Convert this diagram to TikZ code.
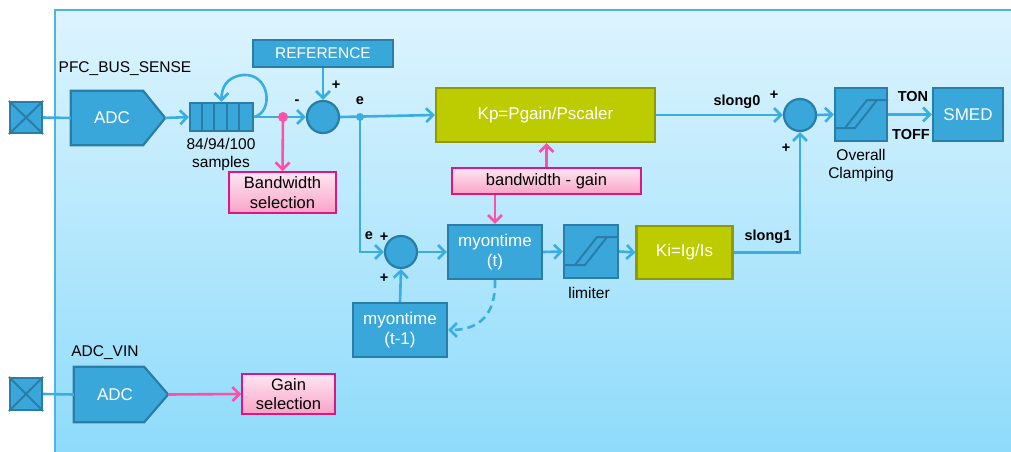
\documentclass[tikz,border=0pt]{standalone}
\usepackage{fontspec}
\setmainfont{Liberation Sans}
\usetikzlibrary{arrows.meta}
\definecolor{blkfill}{HTML}{3AA7DA}
\definecolor{blkline}{HTML}{2A7DA8}
\definecolor{wirec}{HTML}{3AAEE2}
\definecolor{pinkw}{HTML}{FF4FA8}
\definecolor{pinkline}{HTML}{E0157F}
\definecolor{pinktop}{HTML}{FDE6F1}
\definecolor{pinkbot}{HTML}{F9A3C8}
\definecolor{olive}{HTML}{BDCC00}
\definecolor{oliveline}{HTML}{8E9A00}
\definecolor{paneltop}{HTML}{DDF4FE}
\definecolor{panelbot}{HTML}{8EDBFB}
\definecolor{panelline}{HTML}{4DB4E4}
\begin{document}
\begin{tikzpicture}[x=1pt,y=-1pt,
 blk/.style={rectangle, fill=blkfill, draw=blkline, line width=2.2pt, text=white, inner sep=0pt, align=center, font=\fontsize{17}{20}\selectfont},
 olv/.style={blk, fill=olive, draw=oliveline},
 pbox/.style={rectangle, top color=pinktop, bottom color=pinkbot, draw=pinkline, line width=1.5pt, inner sep=0pt, align=center, text=black, font=\fontsize{16.5}{19.5}\selectfont},
 sumc/.style={circle, fill=blkfill, draw=blkline, line width=2.2pt, minimum size=32pt, inner sep=0pt},
 wire/.style={draw=wirec, line width=2.6pt, -{Straight Barb[length=7pt,width=14pt,line width=2.6pt]}},
 plainwire/.style={draw=wirec, line width=2.6pt},
 pwire/.style={draw=pinkw, line width=2.6pt, -{Straight Barb[length=7pt,width=14pt,line width=2.6pt]}},
 lbl/.style={inner sep=0pt, align=center, text=black, font=\fontsize{15.5}{18}\selectfont},
 blbl/.style={inner sep=0pt, text=black, font=\fontsize{14.5}{16}\selectfont\bfseries},
 adcbox/.style={rectangle, minimum width=94pt, minimum height=54pt, inner sep=0pt, text=white, font=\fontsize{17}{20}\selectfont},
 satur/.pic={\draw[blkline, line width=2pt] (-27,13.5) -- (-6,13.5) -- (16,-14.5) -- (27,-14.5) (-16,13.5) -- (6,-14.5) -- (16,-14.5);}
]
\useasboundingbox (0,0) rectangle (1011,452);
% panel
\shade[top color=paneltop, bottom color=panelbot] (55,10) rectangle (1013,454);
\draw[panelline, line width=2pt] (55,454) -- (55,10) -- (1013,10);

% top input chain
\node[blk, minimum width=32pt, minimum height=31pt] (in1) at (26,117.5) {};
\draw[blkline, line width=2pt] (in1.north west) -- (in1.south east) (in1.north east) -- (in1.south west);
\node[adcbox] (adc1) at (118,118) {};
\draw[fill=blkfill, draw=blkline, line width=2.2pt] (adc1.north west) -- ([xshift=-22pt]adc1.north east) -- (adc1.east) -- ([xshift=-22pt]adc1.south east) -- (adc1.south west) -- cycle;
\node[text=white, font=\fontsize{17}{20}\selectfont] at ([xshift=-6pt]adc1.center) {ADC};
\node[lbl] (pfc) at (125,69) {PFC\_BUS\_SENSE};
\draw[plainwire] (in1.east) -- (adc1.west);

\node[blk, minimum width=63pt, minimum height=28pt] (buf) at (221.5,117) {};
\foreach \i in {1,...,4} {
  \draw[blkline, line width=2pt] ([xshift=12.6*\i pt]buf.north west) -- ([xshift=12.6*\i pt]buf.south west);
}
\node[lbl] (samp) at (221,154) {84/94/100\\samples};
\draw[wire] (adc1.east) -- (buf.west);
\draw[wire] (buf.east) .. controls (274,112) and (270,73) .. (243,75) .. controls (226,77) and (221.5,88) .. (buf.north);

\node[sumc] (sum1) at (323,117) {};
\node[blk, minimum width=140pt, minimum height=27pt, font=\fontsize{15.5}{18}\selectfont] (ref) at (323,53.5) {REFERENCE};
\draw[wire] (ref.south) -- (sum1.north);
\node[blbl] (m1) at (297,102) {-};
\node[blbl] (p1) at (336,85) {+};

\coordinate (bwtap) at (283,117);
\draw[wire] (buf.east) -- (sum1.west);
\fill[pinkw] (bwtap) circle[radius=5];
\node[pbox, minimum width=107pt, minimum height=41pt] (bwsel) at (282.5,192.5) {Bandwidth\\selection};
\draw[pwire] (bwtap) -- (bwsel.north);

% proportional path
\node[olv, minimum width=219pt, minimum height=54pt] (kp) at (545.5,115) {Kp=Pgain/Pscaler};
\coordinate (etap) at (360,117);
\draw[wire] (sum1.east) -- (kp.west);
\fill[wirec] (etap) circle[radius=4];
\node[blbl] (e1) at (360,101) {e};

\node[pbox, minimum width=189pt, minimum height=26pt] (bwg) at (546.5,181) {bandwidth - gain};
\draw[pwire] (bwg.north) -- (bwg.north |- kp.south);

% integral path
\node[sumc] (sum2) at (401,252) {};
\node[blk, minimum width=94pt, minimum height=54pt] (myt) at (495,252) {myontime\\(t)};
\node[blk, minimum width=54pt, minimum height=53pt] (lim) at (591,251.5) {};
\pic at (lim.center) {satur};
\node[lbl] (limlbl) at (589,293) {limiter};
\node[olv, minimum width=96pt, minimum height=53pt] (ki) at (684.5,252.5) {Ki=Ig/Is};
\node[blk, minimum width=94pt, minimum height=54pt] (mytm1) at (400,330) {myontime\\(t-1)};
\draw[pwire] (bwg.south -| myt.north) -- (myt.north);
\draw[wire] (etap) |- (sum2.west);
\node[blbl] (e2) at (369,236) {e};
\node[blbl] (p2) at (384,237) {+};
\node[blbl] (p3) at (384,278) {+};
\draw[wire] (sum2.east) -- (myt.west);
\draw[wire] (myt.east) -- (lim.west);
\draw[wire] (lim.east) -- (ki.west);
\draw[wire] (mytm1.north) -- (sum2.south);
\draw[wire, dash pattern=on 8pt off 5pt] (myt.south) .. controls (496,316) and (478,330) .. (mytm1.east);

% output stage
\node[sumc] (sum3) at (800,115) {};
\draw[wire] (kp.east) -- (sum3.west);
\node[blbl] (sl0) at (737,102) {slong0};
\draw[wire] (ki.east) -| (sum3.south);
\node[blbl] (sl1) at (768,237) {slong1};
\node[blbl] (p4) at (774,95) {+};
\node[blbl] (p5) at (786,148) {+};
\node[blk, minimum width=52pt, minimum height=53pt] (clamp) at (861,114.5) {};
\pic at (clamp.center) {satur};
\node[lbl] (clbl) at (861,165) {Overall\\Clamping};
\node[blk, minimum width=70pt, minimum height=53pt] (smed) at (968,114.5) {SMED};
\draw[wire] (sum3.east) -- (clamp.west);
\draw[wire] (clamp.east) -- (smed.west);
\node[blbl] (ton) at (913,97) {TON};
\node[blbl] (toff) at (911,135) {TOFF};

% bottom input chain
\node[blk, minimum width=32pt, minimum height=32pt] (in2) at (26,394) {};
\draw[blkline, line width=2pt] (in2.north west) -- (in2.south east) (in2.north east) -- (in2.south west);
\node[adcbox, minimum height=55pt] (adc2) at (121,394.5) {};
\draw[fill=blkfill, draw=blkline, line width=2.2pt] (adc2.north west) -- ([xshift=-24pt]adc2.north east) -- (adc2.east) -- ([xshift=-24pt]adc2.south east) -- (adc2.south west) -- cycle;
\node[text=white, font=\fontsize{17}{20}\selectfont] at ([xshift=-6pt]adc2.center) {ADC};
\node[lbl] (vin) at (105,353) {ADC\_VIN};
\draw[plainwire] (in2.east) -- (adc2.west);
\node[pbox, minimum width=93pt, minimum height=40pt] (gsel) at (288.5,394) {Gain\\selection};
\draw[pwire] (adc2.east) -- (gsel.west);
\end{tikzpicture}
\end{document}
